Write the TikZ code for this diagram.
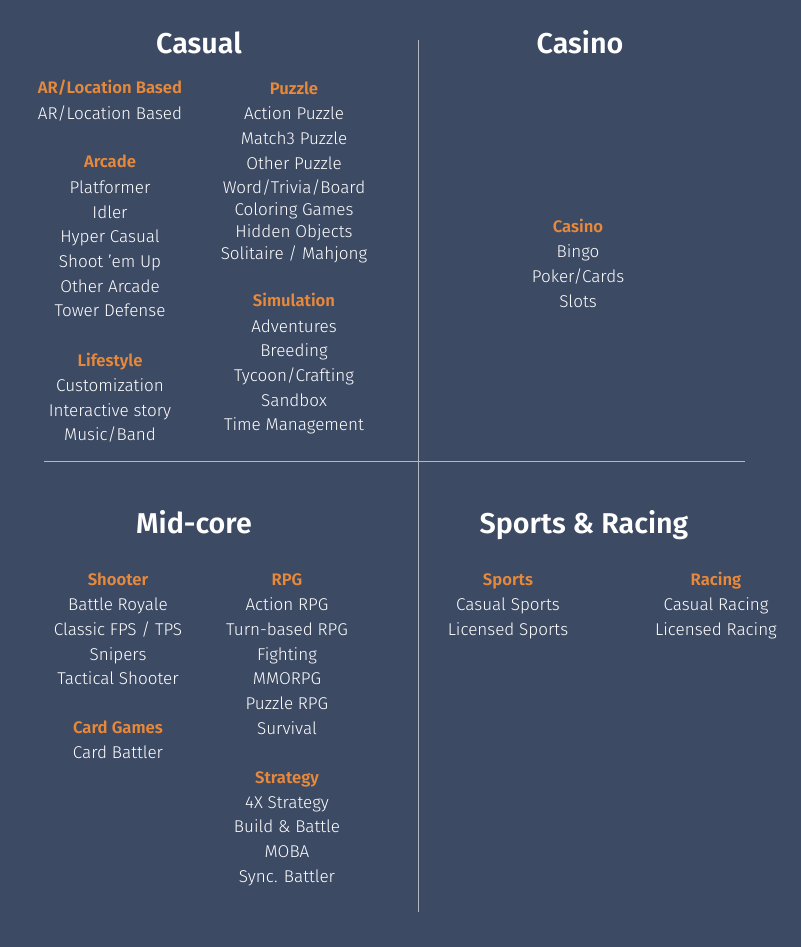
\documentclass[tikz,border=0pt]{standalone}
\usepackage{fontspec}
\setmainfont{Fira Sans}[UprightFont=* Light, BoldFont=* SemiBold]
\definecolor{bg}{HTML}{3D4A64}
\definecolor{org}{HTML}{E8893A}
\definecolor{ln}{HTML}{B4B8C4}
\begin{document}
\begin{tikzpicture}[x=0.75pt,y=-0.75pt,
  title/.style={font=\fontsize{21.5}{24}\selectfont\bfseries, text=white, inner sep=0, text height=15pt, text depth=0pt},
  cat/.style={font=\fontsize{12.5}{14}\selectfont\bfseries, text=org, inner sep=0, text height=8.8pt, text depth=0pt},
  item/.style={font=\fontsize{12.8}{14}\selectfont, text=white, inner sep=0, text height=9pt, text depth=0pt},
  divider/.style={draw=ln, line width=0.6pt}]
\fill[bg] (0,0) rectangle (801,947);
\useasboundingbox (0,0) rectangle (801,947);
% dividers
\coordinate (vt) at (418,40); \coordinate (vb) at (418,912);
\coordinate (hl) at (44,461); \coordinate (hr) at (745,461);
\draw[divider] (vt) -- (vb);
\draw[divider] (hl) -- (hr);
% titles
\node[title] (tcasual) at (199,43) {Casual};
\node[title] (tcasino) at (580,43) {Casino};
\node[title] (tmid) at (194,523) {Mid-core};
\node[title] (tsports) at (584,523) {Sports \& Racing};
% Casual left column
\node[cat] (c-ar) at (110,88) {AR/Location Based};
\node[item] (c-ar1) at (110,113) {AR/Location Based};
\node[cat] (c-arc) at (110,162) {Arcade};
\foreach \y/\t [count=\i] in {187/{Platformer},212/{Idler},236/{Hyper Casual},261/{Shoot ’em Up},286/{Other Arcade},310/{Tower Defense}}
  \node[item] (c-arc\i) at (110,\y) {\t};
\node[cat] (c-life) at (110,361) {Lifestyle};
\foreach \y/\t [count=\i] in {385/{Customization},410/{Interactive story},434/{Music/Band}}
  \node[item] (c-life\i) at (110,\y) {\t};
% Casual right column
\node[cat] (c-puz) at (294,89) {Puzzle};
\foreach \y/\t [count=\i] in {113/{Action Puzzle},138/{Match3 Puzzle},163/{Other Puzzle},187/{Word/Trivia/Board},209/{Coloring Games},231/{Hidden Objects},253/{Solitaire / Mahjong}}
  \node[item] (c-puz\i) at (294,\y) {\t};
\node[cat] (c-sim) at (294,301) {Simulation};
\foreach \y/\t [count=\i] in {326/{Adventures},350/{Breeding},375/{Tycoon/Crafting},400/{Sandbox},424/{Time Management}}
  \node[item] (c-sim\i) at (294,\y) {\t};
% Casino
\node[cat] (k-cas) at (578,227) {Casino};
\foreach \y/\t [count=\i] in {251/{Bingo},276/{Poker/Cards},301/{Slots}}
  \node[item] (k-cas\i) at (578,\y) {\t};
% Mid-core left
\node[cat] (m-sh) at (118,580) {Shooter};
\foreach \y/\t [count=\i] in {604/{Battle Royale},629/{Classic FPS / TPS},654/{Snipers},678/{Tactical Shooter}}
  \node[item] (m-sh\i) at (118,\y) {\t};
\node[cat] (m-card) at (118,728) {Card Games};
\node[item] (m-card1) at (118,752) {Card Battler};
% Mid-core right
\node[cat] (m-rpg) at (287,580) {RPG};
\foreach \y/\t [count=\i] in {604/{Action RPG},629/{Turn-based RPG},654/{Fighting},678/{MMORPG},703/{Puzzle RPG},728/{Survival}}
  \node[item] (m-rpg\i) at (287,\y) {\t};
\node[cat] (m-str) at (287,778) {Strategy};
\foreach \y/\t [count=\i] in {802/{4X Strategy},826/{Build \& Battle},851/{MOBA},876/{Sync. Battler}}
  \node[item] (m-str\i) at (287,\y) {\t};
% Sports & Racing
\node[cat] (s-sp) at (508,580) {Sports};
\node[item] (s-sp1) at (508,604) {Casual Sports};
\node[item] (s-sp2) at (508,629) {Licensed Sports};
\node[cat] (s-rc) at (716,580) {Racing};
\node[item] (s-rc1) at (716,604) {Casual Racing};
\node[item] (s-rc2) at (716,629) {Licensed Racing};
\end{tikzpicture}
\end{document}
